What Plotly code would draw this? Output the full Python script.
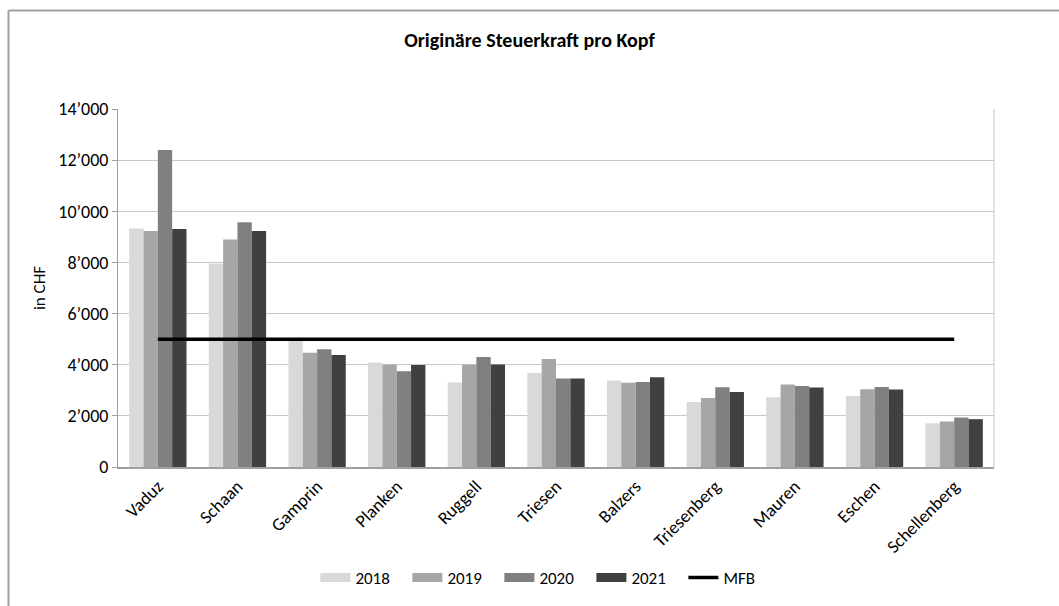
import plotly.graph_objects as go

categories = ["Vaduz", "Schaan", "Gamprin", "Planken", "Ruggell", "Triesen",
              "Balzers", "Triesenberg", "Mauren", "Eschen", "Schellenberg"]
v2018 = [9330, 7960, 4950, 4090, 3300, 3680, 3380, 2540, 2730, 2780, 1710]
v2019 = [9230, 8900, 4470, 4000, 4000, 4220, 3290, 2700, 3230, 3040, 1780]
v2020 = [12400, 9570, 4600, 3740, 4300, 3460, 3320, 3120, 3170, 3130, 1935]
v2021 = [9310, 9230, 4380, 3985, 4010, 3460, 3510, 2930, 3110, 3030, 1870]
mfb = [5000] * len(categories)
years = ["2018", "2019", "2020", "2021"]
colors = ["#D9D9D9", "#A6A6A6", "#808080", "#404040"]
ytickvals = [0, 2000, 4000, 6000, 8000, 10000, 12000, 14000]
yticktext = ["0", "2’000", "4’000", "6’000", "8’000", "10’000", "12’000", "14’000"]

FONT = "Carlito, Calibri, Lato, sans-serif"

fig = go.Figure()
for name, vals, col in zip(years, [v2018, v2019, v2020, v2021], colors):
    fig.add_trace(go.Bar(x=categories, y=vals, name=name, marker_color=col,
                         marker_line_width=0, legendgroup=name, showlegend=False))
    # legend-only entry drawn as a wide rectangle, like the reference legend
    fig.add_trace(go.Scatter(x=[None], y=[None], name=name, mode="lines",
                             legendgroup=name, line=dict(color=col, width=9)))
fig.add_trace(go.Scatter(x=categories, y=mfb, name="MFB", mode="lines",
                         line=dict(color="#000000", width=3.5)))

L, R, T, B = 118, 65, 109, 139
W, H = 1059, 606
pw = W - L - R
ph = H - T - B

fig.update_layout(
    width=W, height=H,
    margin=dict(l=L, r=R, t=T, b=B, autoexpand=False),
    paper_bgcolor="white", plot_bgcolor="white",
    font=dict(family=FONT, size=17, color="#000000"),
    title=dict(text="<b>Originäre Steuerkraft pro Kopf</b>", x=0.5, xref="container",
               xanchor="center", y=1 - 40 / H, yref="container", yanchor="middle",
               font=dict(family=FONT, size=20, color="#000000")),
    barmode="group", bargap=0.28, bargroupgap=0,
    legend=dict(orientation="h", x=0.515, xref="container", xanchor="center",
                y=1 - 578 / H, yref="container", yanchor="middle",
                font=dict(family=FONT, size=17), traceorder="normal",
                itemwidth=30, tracegroupgap=0,
                entrywidth=47, entrywidthmode="pixels"),
    showlegend=True,
    xaxis=dict(tickangle=-45, showline=True, linecolor="#A0A0A0", linewidth=1.5,
               ticks="", showgrid=False, automargin=False,
               tickfont=dict(family=FONT, size=18)),
    yaxis=dict(range=[0, 14000], tickvals=ytickvals, ticktext=yticktext,
               showgrid=True, gridcolor="#C8C8C8", gridwidth=1,
               showline=True, linecolor="#A0A0A0", linewidth=1,
               ticks="outside", ticklen=5, tickcolor="#A0A0A0",
               zeroline=False, automargin=False,
               title=dict(text="in CHF", font=dict(family=FONT, size=17), standoff=8),
               tickfont=dict(family=FONT, size=18)),
)

# outer chart border (top and left only, as in the reference)
bx = (8.5 - L) / pw
by_top = 1 + (T - 10.5) / ph
by_bot = -(B + 5) / ph
fig.add_shape(type="line", xref="paper", yref="paper", x0=bx, x1=bx, y0=by_bot, y1=by_top,
              line=dict(color="#A0A0A0", width=2), layer="above")
fig.add_shape(type="line", xref="paper", yref="paper", x0=bx, x1=(W + 5 - L) / pw,
              y0=by_top, y1=by_top, line=dict(color="#A0A0A0", width=2), layer="above")
# right edge of plot area
fig.add_shape(type="line", xref="paper", yref="paper", x0=1, x1=1, y0=0, y1=1,
              line=dict(color="#C8C8C8", width=1), layer="below")

fig.write_html("out.html")
